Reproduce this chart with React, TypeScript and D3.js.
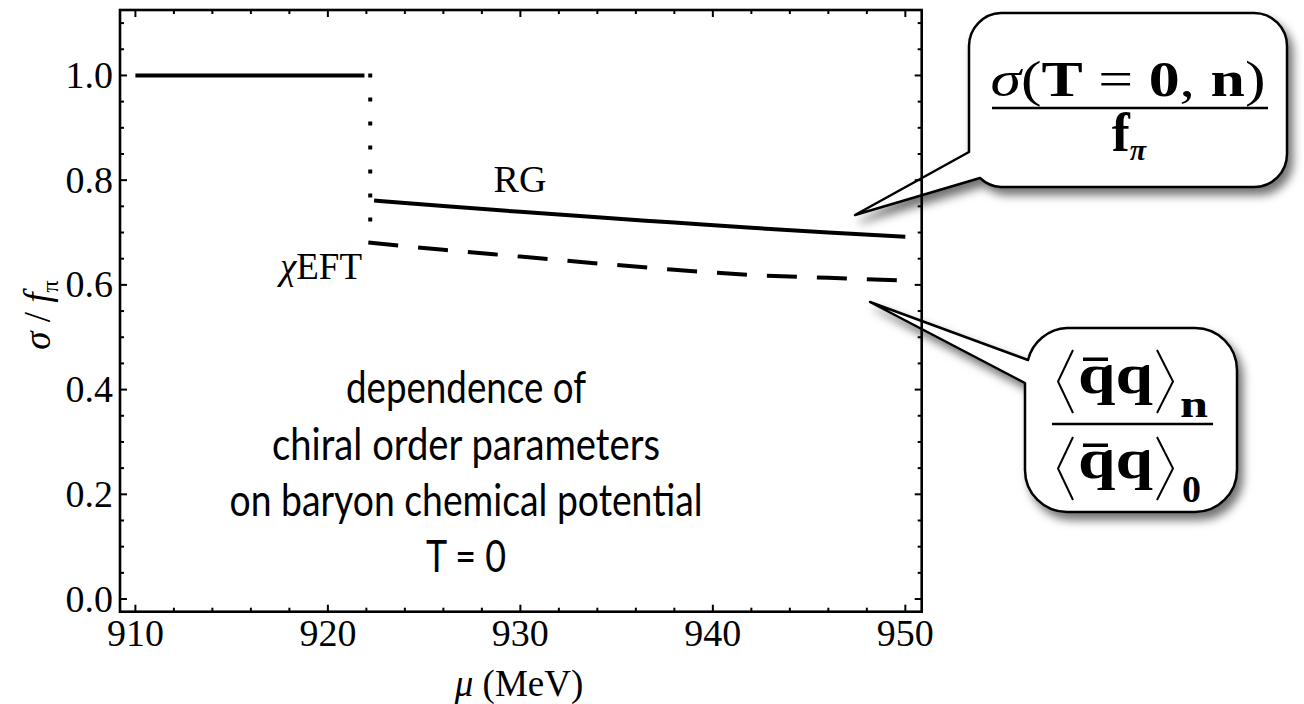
import React from 'react';
import * as d3 from 'd3';

// ---- data ----
const xTicks = [910, 920, 930, 940, 950];
const yTicks = [0, 0.2, 0.4, 0.6, 0.8, 1.0];
const yTickLabels = ['0.0', '0.2', '0.4', '0.6', '0.8', '1.0'];

const vacuumMu = [910, 921.9];
const vacuumSigma = [1.0, 1.0];

const transitionMu = [922.2, 922.2];
const transitionSigma = [1.0, 0.681];

const rgMu = [922.4, 926, 930, 934, 938, 942, 946, 950];
const rgSigma = [0.761, 0.7505, 0.7395, 0.729, 0.719, 0.709, 0.7, 0.692];

const condMu = [922.1, 926, 930, 934, 938, 942, 946, 950];
const condRatio = [0.681, 0.667, 0.654, 0.641, 0.629, 0.619, 0.6135, 0.6085];

const noteLines = [
  'dependence of',
  'chiral order parameters',
  'on baryon chemical potential',
  'T = 0',
];

// ---- layout ----
const W = 1304;
const H = 704;
const L = 120, R = 921.7, T = 10, B = 611.7;
const SERIF = '"Liberation Serif", "Times New Roman", serif';
const SANS = 'Lato, "Open Sans", sans-serif';

export default function App() {
  const x = d3.scaleLinear().domain([909.2, 950.85]).range([L, R]);
  const y = d3.scaleLinear().domain([-0.0242, 1.125]).range([B, T]);

  const line = d3
    .line<[number, number]>()
    .x((d) => x(d[0]))
    .y((d) => y(d[1]))
    .curve(d3.curveMonotoneX);
  const zip = (a: number[], b: number[]) => a.map((v, i) => [v, b[i]] as [number, number]);

  const xMinor = d3.range(912, 950, 2).filter((v) => v % 10 !== 0);
  const yMinor = d3.range(1, 23).map((i) => i * 0.05).filter((_, i) => (i + 1) % 4 !== 0);

  const noteBaselines = [403, 460, 516, 572];
  const noteWidths = [240, 388, 473, 80];

  // callout shapes
  const box1 = `M 1001 13 H 1254 A 33 33 0 0 1 1287 46 V 154 A 33 33 0 0 1 1254 187 H 1001
    A 33 33 0 0 1 980 178 L 855 215 L 969 152 V 46 A 33 33 0 0 1 1001 13 Z`;
  const box2 = `M 1067 328 H 1195 A 42 42 0 0 1 1237 370 V 470 A 42 42 0 0 1 1195 512 H 1067
    A 42 42 0 0 1 1025 470 V 383 L 870 302 L 1028 360 A 42 42 0 0 1 1067 328 Z`;

  return (
    <svg
      width={W}
      height={H}
      style={{ position: 'absolute', left: 0, top: 0, display: 'block', background: '#fff' }}
    >
      <defs>
        <filter id="shadow" x="-30%" y="-30%" width="170%" height="170%">
          <feDropShadow dx="5" dy="7" stdDeviation="5" floodColor="#000" floodOpacity="0.55" />
        </filter>
      </defs>
      <rect x={0} y={0} width={W} height={H} fill="#fff" />

      {/* data lines */}
      <path d={line(zip(vacuumMu, vacuumSigma)) || ''} fill="none" stroke="#000" strokeWidth={4} />
      <path
        d={line(zip(transitionMu, transitionSigma)) || ''}
        fill="none"
        stroke="#000"
        strokeWidth={4}
        strokeDasharray="0 24"
        strokeLinecap="square"
      />
      <path d={line(zip(rgMu, rgSigma)) || ''} fill="none" stroke="#000" strokeWidth={4} />
      <path
        d={line(zip(condMu, condRatio)) || ''}
        fill="none"
        stroke="#000"
        strokeWidth={4}
        strokeDasharray="30 20"
      />

      {/* labels in plot */}
      <text x={520} y={192} fontFamily={SERIF} fontSize={38} textAnchor="middle">RG</text>
      <text x={321} y={279} fontFamily={SERIF} fontSize={37} textAnchor="middle">
        <tspan fontStyle="italic">χ</tspan>EFT
      </text>

      {noteLines.map((t, i) => (
        <text
          key={t}
          x={466}
          y={noteBaselines[i]}
          fontFamily={SANS}
          fontSize={44}
          textAnchor="middle"
          textLength={noteWidths[i]}
          lengthAdjust="spacingAndGlyphs"
        >
          {t}
        </text>
      ))}

      {/* callout 1 */}
      <path d={box1} fill="#fff" stroke="#000" strokeWidth={2.5} strokeLinejoin="round" filter="url(#shadow)" />
      <text
        x={1128}
        y={96}
        fontFamily={SERIF}
        fontSize={50}
        textAnchor="middle"
        textLength={275}
        lengthAdjust="spacingAndGlyphs"
      >
        <tspan fontStyle="italic">σ</tspan>
        <tspan>(</tspan>
        <tspan fontWeight="bold">T</tspan>
        <tspan> = </tspan>
        <tspan fontWeight="bold">0</tspan>
        <tspan>, </tspan>
        <tspan fontWeight="bold">n</tspan>
        <tspan>)</tspan>
      </text>
      <line x1={992} x2={1268} y1={108} y2={108} stroke="#000" strokeWidth={2.5} />
      <text x={1129} y={151} fontFamily={SERIF} fontSize={54} fontWeight="bold" textAnchor="middle">
        f<tspan fontSize={30} dy={9} fontStyle="italic">π</tspan>
      </text>

      {/* callout 2 */}
      <path d={box2} fill="#fff" stroke="#000" strokeWidth={2.5} strokeLinejoin="round" filter="url(#shadow)" />
      {/* numerator */}
      <path d="M 1073 350 L 1058 381.5 L 1073 413" fill="none" stroke="#000" strokeWidth={2} />
      <path d="M 1157 350 L 1173 381.5 L 1157 413" fill="none" stroke="#000" strokeWidth={2} />
      <text x={1078} y={393} fontFamily={SERIF} fontSize={56} fontWeight="bold" textLength={75} lengthAdjust="spacingAndGlyphs">qq</text>
      <rect x={1083} y={357.5} width={25} height={3.5} fill="#000" />
      <text x={1180} y={417} fontFamily={SERIF} fontSize={38} fontWeight="bold" textLength={28} lengthAdjust="spacingAndGlyphs">n</text>
      <line x1={1052} x2={1213} y1={424} y2={424} stroke="#000" strokeWidth={2.5} />
      {/* denominator */}
      <path d="M 1073 437 L 1058 468.5 L 1073 500" fill="none" stroke="#000" strokeWidth={2} />
      <path d="M 1157 437 L 1173 468.5 L 1157 500" fill="none" stroke="#000" strokeWidth={2} />
      <text x={1078} y={478} fontFamily={SERIF} fontSize={56} fontWeight="bold" textLength={75} lengthAdjust="spacingAndGlyphs">qq</text>
      <rect x={1083} y={443.5} width={25} height={3.5} fill="#000" />
      <text x={1182} y={502} fontFamily={SERIF} fontSize={38} fontWeight="bold">0</text>

      {/* frame */}
      <rect x={L} y={T} width={R - L} height={B - T} fill="none" stroke="#000" strokeWidth={2.6} />

      {/* x ticks */}
      {xTicks.map((v) => (
        <g key={'xt' + v}>
          <line x1={x(v)} x2={x(v)} y1={B} y2={B - 7} stroke="#000" strokeWidth={2} />
          <line x1={x(v)} x2={x(v)} y1={T} y2={T + 7} stroke="#000" strokeWidth={2} />
          <text x={x(v)} y={646} fontFamily={SERIF} fontSize={38} textAnchor="middle">{v}</text>
        </g>
      ))}
      {xMinor.map((v) => (
        <g key={'xm' + v}>
          <line x1={x(v)} x2={x(v)} y1={B} y2={B - 4} stroke="#000" strokeWidth={2} />
          <line x1={x(v)} x2={x(v)} y1={T} y2={T + 4} stroke="#000" strokeWidth={2} />
        </g>
      ))}

      {/* y ticks */}
      {yTicks.map((v, i) => (
        <g key={'yt' + v}>
          <line x1={L} x2={L + 7} y1={y(v)} y2={y(v)} stroke="#000" strokeWidth={2} />
          <line x1={R} x2={R - 7} y1={y(v)} y2={y(v)} stroke="#000" strokeWidth={2} />
          <text x={113} y={y(v) + 12.5} fontFamily={SERIF} fontSize={38} textAnchor="end">{yTickLabels[i]}</text>
        </g>
      ))}
      {yMinor.map((v) => (
        <g key={'ym' + v}>
          <line x1={L} x2={L + 4} y1={y(v)} y2={y(v)} stroke="#000" strokeWidth={2} />
          <line x1={R} x2={R - 4} y1={y(v)} y2={y(v)} stroke="#000" strokeWidth={2} />
        </g>
      ))}

      {/* axis labels */}
      <text x={519} y={696} fontFamily={SERIF} fontSize={37} textAnchor="middle">
        <tspan fontStyle="italic">μ</tspan> (MeV)
      </text>
      <text transform="translate(50,315) rotate(-90)" fontFamily={SERIF} fontSize={37} textAnchor="middle">
        <tspan fontStyle="italic">σ</tspan> / <tspan fontStyle="italic">f</tspan>
        <tspan fontSize={24} dy={8}>π</tspan>
      </text>
    </svg>
  );
}
